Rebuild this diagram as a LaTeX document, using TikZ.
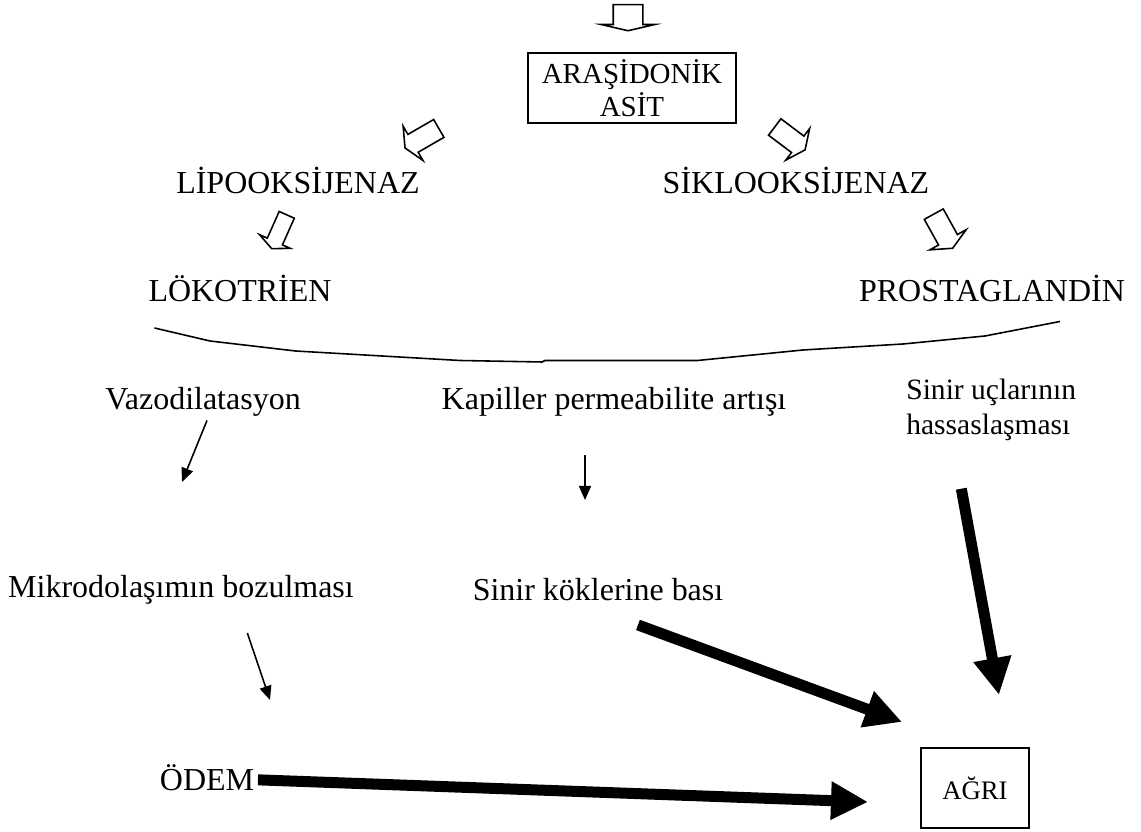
\documentclass[tikz,border=0pt]{standalone}
\usepackage{fontspec}
\setmainfont{Liberation Serif}
\usetikzlibrary{arrows.meta,shapes.arrows}

\tikzset{
  lbl/.style={font=\fontsize{18.2}{20.2}\selectfont, inner sep=2pt},
  boxed/.style={lbl, draw, line width=1pt, align=center},
  hollow/.style={single arrow, draw, line width=0.9pt, inner xsep=0pt, single arrow tip angle=130},
  slim/.style={line width=0.9pt, -{Triangle[length=0.28cm,width=0.24cm]}},
  heavy/.style={line width=0.22cm, -{Triangle[length=0.74cm,width=0.72cm]}}
}

\begin{document}
\begin{tikzpicture}
  \useasboundingbox (0,0) rectangle (22.82,-16.64);
  \node [boxed, font=\fontsize{16.5}{18.8}\selectfont, minimum width=4.16cm, minimum height=1.4cm] (asit) at (12.64,-1.76) {ARAŞİDONİK\\ASİT};
  \node [lbl] (lipo) at (5.96,-3.6) {LİPOOKSİJENAZ};
  \node [lbl] (siklo) at (15.92,-3.6) {SİKLOOKSİJENAZ};
  \node [lbl] (loko) at (4.8,-5.76) {LÖKOTRİEN};
  \node [lbl] (prosta) at (19.84,-5.76) {PROSTAGLANDİN};
  \node [lbl] (vazo) at (4.06,-8.04) {Vazodilatasyon};
  \node [lbl] (kapiller) at (12.28,-8.04) {Kapiller permeabilite artışı};
  \node [lbl, font=\fontsize{16.8}{19.6}\selectfont, align=left, anchor=west] (sinir) at (18.05,-8.2) {Sinir uçlarının\\hassaslaşması};
  \node [lbl] (mikro) at (3.62,-11.8) {Mikrodolaşımın bozulması};
  \node [lbl] (kokler) at (11.96,-11.8) {Sinir köklerine bası};
  \node [lbl] (odem) at (4.14,-15.56) {ÖDEM};
  \node [boxed, font=\fontsize{15.2}{17}\selectfont, minimum width=2.16cm, minimum height=1.6cm] (agri) at (19.5,-15.76) {AĞRI};

  \node [hollow, rotate=-90, minimum height=0.52cm, inner ysep=0.28cm, single arrow head extend=0.24cm, single arrow tip angle=154] (h0) at (12.56,-0.32) {};
  \node [hollow, rotate=210, minimum height=0.78cm, inner ysep=0.19cm, single arrow head extend=0.19cm] (h1) at (8.48,-2.74) {};
  \node [hollow, rotate=-37, minimum height=0.76cm, inner ysep=0.19cm, single arrow head extend=0.19cm] (h2) at (15.76,-2.74) {};
  \node [hollow, rotate=-114, minimum height=0.74cm, inner ysep=0.15cm, single arrow head extend=0.17cm] (h3) at (5.6,-4.6) {};
  \node [hollow, rotate=-61, minimum height=0.78cm, inner ysep=0.2cm, single arrow head extend=0.2cm] (h4) at (18.84,-4.58) {};

  \draw [line width=0.9pt] (3.09,-6.56) -- (4.2,-6.82) -- (5.91,-7.02) -- (9.2,-7.21) -- (10.84,-7.24)
    -- (10.9,-7.21) -- (13.95,-7.21) -- (16.06,-7.0) -- (18.06,-6.88) -- (19.7,-6.72) -- (21.2,-6.43);

  \coordinate (v1) at (3.64,-9.64);
  \coordinate (k1) at (11.7,-10);
  \coordinate (m1) at (5.4,-14);
  \draw [slim] ([xshift=0.08cm]vazo.south) -- (v1);
  \draw [slim, shorten <=0.7cm] ([xshift=-0.58cm]kapiller.south) -- (k1);
  \draw [slim, shorten <=0.52cm] ([xshift=1.16cm]mikro.south) -- (m1);

  \coordinate (a1) at (17.36,-16.04);
  \coordinate (a2) at (18.04,-14.44);
  \coordinate (a3) at (19.98,-13.9);
  \draw [heavy] (odem) -- (a1);
  \draw [heavy, shorten <=1.15cm] ([xshift=-0.28cm]kokler.south) -- (a2);
  \draw [heavy, shorten <=0.9cm] ([xshift=-0.76cm]sinir.south) -- (a3);
\end{tikzpicture}
\end{document}
